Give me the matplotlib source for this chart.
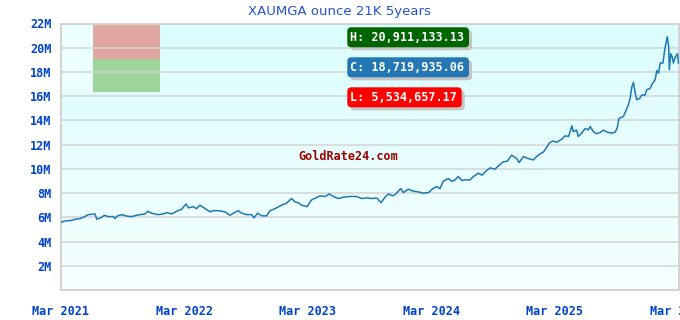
import numpy as np
import matplotlib
matplotlib.use("Agg")
import matplotlib.pyplot as plt
from matplotlib.patches import Rectangle, FancyBboxPatch
from matplotlib.colors import LinearSegmentedColormap

# days since 1 Mar 2021, price in millions (MGA per ounce, 21K)
days = [1, 13, 34, 43, 58, 72, 82, 102, 107, 122, 129, 141, 156, 161, 167, 181,
        196, 210, 225, 235, 250, 258, 269, 289, 304, 314, 329, 343, 358, 371, 378,
        392, 402, 412, 427, 442, 452, 466, 486, 501, 511, 525, 535, 550, 565, 572,
        582, 595, 609, 619, 634, 649, 668, 683, 693, 703, 713, 728, 742, 767, 782,
        794, 806, 821, 836, 855, 875, 890, 905, 920, 934, 947, 959, 969, 983, 993,
        1005, 1013, 1028, 1043, 1057, 1072, 1087, 1100, 1112, 1121, 1131, 1146,
        1156, 1166, 1175, 1186, 1195, 1210, 1220, 1235, 1245, 1259, 1269, 1284,
        1294, 1308, 1320, 1333, 1348, 1355, 1368, 1382, 1397, 1407, 1417, 1427,
        1437, 1444, 1455, 1467, 1481, 1491, 1501, 1511, 1515, 1525, 1530, 1540,
        1550, 1560, 1565, 1574, 1584, 1594, 1604, 1614, 1629, 1639, 1645, 1650,
        1663, 1671, 1678, 1683, 1688, 1693, 1698, 1703, 1712, 1717, 1727, 1732,
        1742, 1747, 1757, 1762, 1767, 1772, 1780, 1786, 1793, 1797, 1799, 1803,
        1807, 1811, 1816, 1823, 1826]
price = [5.60, 5.70, 5.75, 5.84, 5.89, 6.06, 6.22, 6.28, 5.84, 6.00, 6.17, 6.06,
         6.06, 5.89, 6.10, 6.22, 6.10, 6.06, 6.17, 6.22, 6.28, 6.50, 6.34, 6.22,
         6.28, 6.39, 6.28, 6.50, 6.67, 7.10, 6.78, 6.88, 6.72, 7.00, 6.72, 6.45,
         6.55, 6.55, 6.45, 6.17, 6.34, 6.55, 6.34, 6.22, 6.22, 5.95, 6.34, 6.12,
         6.12, 6.55, 6.72, 6.94, 7.17, 7.55, 7.27, 7.20, 7.00, 6.88, 7.44, 7.77,
         7.72, 7.93, 7.72, 7.55, 7.66, 7.72, 7.72, 7.55, 7.60, 7.55, 7.60, 7.22,
         7.66, 7.93, 7.77, 7.99, 8.37, 8.04, 8.32, 8.15, 8.10, 7.99, 8.04, 8.37,
         8.54, 8.37, 8.98, 9.20, 8.98, 9.09, 9.37, 9.04, 9.09, 9.09, 9.37, 9.64,
         9.48, 9.86, 10.08, 9.97, 10.25, 10.58, 10.63, 11.13, 10.85, 10.52, 11.02,
         10.85, 10.74, 11.02, 11.24, 11.40, 11.79, 12.12, 12.30, 12.20, 12.45,
         12.73, 12.67, 13.55, 13.08, 13.20, 12.67, 12.95, 13.33, 13.22, 13.50,
         13.08, 12.90, 13.00, 13.20, 13.04, 12.95, 13.04, 13.39, 14.16, 14.32,
         14.82, 15.29, 15.81, 16.75, 17.13, 16.25, 15.70, 15.84, 16.09, 16.09,
         16.53, 16.64, 16.94, 17.36, 18.12, 17.90, 18.74, 18.74, 19.97, 20.91,
         20.10, 18.18, 19.50, 19.28, 18.74, 19.20, 19.50, 18.72]

x_ticks = [0, 365, 730, 1096, 1461, 1826]
x_labels = ["Mar 2021", "Mar 2022", "Mar 2023", "Mar 2024", "Mar 2025", "Mar 2026"]
y_ticks = [2, 4, 6, 8, 10, 12, 14, 16, 18, 20, 22]
y_labels = [f"{v}M" for v in y_ticks]

badges = [("H: 20,911,133.13", "#006400"),
          ("C: 18,719,935.06", "#2277b4"),
          ("L: 5,534,657.17", "#ff0000")]

W, H = 680, 320
fig = plt.figure(figsize=(6.8, 3.2), dpi=100)
ax = fig.add_axes([60.5 / W, 30 / H, 618 / W, 266.5 / H])

# background gradient
cmap = LinearSegmentedColormap.from_list("bg", ["#f6ffff", "#dafdfd"])
grad = np.linspace(0, 1, 256).reshape(-1, 1)
ax.imshow(grad, cmap=cmap, aspect="auto", origin="lower",
          extent=[0, 1826, 0, 22], zorder=0)

ax.plot(days, price, color="#1f77b4", lw=1.1, zorder=3)

ax.set_xlim(0, 1826)
ax.set_ylim(0, 22)
ax.set_xticks(x_ticks)
ax.set_xticklabels(x_labels)
ax.set_yticks(y_ticks)
ax.set_yticklabels(y_labels)
ax.tick_params(length=0, colors="#0044cc", labelsize=8.5)
ax.tick_params(axis="x", pad=10.5)
ax.tick_params(axis="y", pad=6.5)
for lab in ax.get_xticklabels() + ax.get_yticklabels():
    lab.set_family("DejaVu Sans Mono")
    lab.set_weight("bold")
ax.grid(True, axis="y", color="#d4d4d4", lw=1.1)
for s in ax.spines.values():
    s.set_color("#d0d0d0")
    s.set_linewidth(1.3)

# little colour blocks at the top left (pixel coords, origin bottom)
ax.add_patch(Rectangle((61, H - 92), 32, 67, transform=None,
                       fc="#ecffff", ec="none", zorder=1))
ax.add_patch(Rectangle((93.3, H - 58.7), 66.7, 33.7, transform=None,
                       fc="#dfa7a0", ec="none", zorder=1))
ax.add_patch(Rectangle((93.3, H - 91.7), 66.7, 33, transform=None,
                       fc="#9ed59b", ec="none", zorder=1))

fig.text(339 / W, 1 - 11 / H, "XAUMGA ounce 21K 5years", ha="center",
         va="center", color="#2255cc", fontsize=9.5)

# H / C / L badges
tops = [27.3, 57.3, 87.3]
rights = [469, 469, 461.7]
for (txt, col), top, right in zip(badges, tops, rights):
    x0, w, h = 347.3, right - 347.3, 20
    y0 = H - top - h
    for dx, dy, fc in [(3, -3, "#c4c4c4"), (0, 0, col)]:
        fig.patches.append(FancyBboxPatch((x0 + dx, y0 + dy), w, h,
                                          boxstyle="round,pad=0,rounding_size=4",
                                          transform=None, fc=fc, ec="none"))
    fig.text(350 / W, (y0 + h / 2) / H, txt, ha="left", va="center",
             color="white", fontsize=8.5, family="DejaVu Sans Mono",
             weight="bold")

fig.text(348.5 / W, 1 - 157 / H, "GoldRate24.com", ha="center", va="center",
         color="#990000", fontsize=8.5, family="DejaVu Sans Mono",
         weight="bold")

fig.savefig("out.png", dpi=100)
plt.close(fig)
